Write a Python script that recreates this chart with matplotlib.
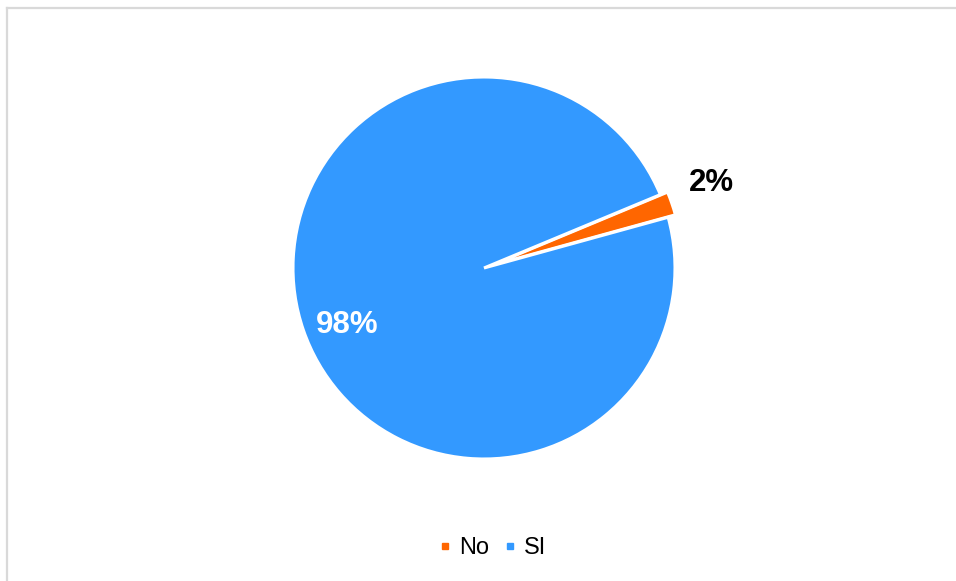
import numpy as np
import matplotlib.pyplot as plt
from matplotlib.lines import Line2D

# Daten
labels = ['No', 'SI']
values = [2, 98]
colors = ['#FF6600', '#3399FF']
pct_text = ['2%', '98%']
text_colors = ['black', 'white']
text_dist = [1.27, 0.775]
text_shift = [1.6, 3.5]  # Grad, Feinjustierung der Beschriftung

W, H = 956, 581
fig = plt.figure(figsize=(W / 100, H / 100), dpi=100)
fig.patch.set_facecolor('white')

# Rahmen (links und oben)
fig.add_artist(Line2D([7 / W, 7 / W], [0, 1 - 8 / H], color='#d9d9d9', lw=1.6,
                      transform=fig.transFigure))
fig.add_artist(Line2D([7 / W, 1], [1 - 8 / H, 1 - 8 / H], color='#d9d9d9', lw=1.6,
                      transform=fig.transFigure))

# Pie-Achse: Mittelpunkt (484, 268), Radius 191 px
cx, cy, r = 484, 268, 191
half = 250
ax = fig.add_axes([(cx - half) / W, (H - cy - half) / H, 2 * half / W, 2 * half / H])

wedges, _ = ax.pie(values, colors=colors, startangle=22.6, counterclock=False,
                   explode=[0.04, 0], radius=1,
                   wedgeprops=dict(edgecolor='white', linewidth=2.2))
ax.set_xlim(-half / r, half / r)
ax.set_ylim(-half / r, half / r)
ax.set_aspect('auto')
ax.axis('off')

for w, t, c, d, s in zip(wedges, pct_text, text_colors, text_dist, text_shift):
    ang = np.deg2rad((w.theta1 + w.theta2) / 2 + s)
    ax.text(d * np.cos(ang), d * np.sin(ang), t, color=c, fontsize=22.5,
            fontweight='bold', ha='center', va='center', family='Liberation Sans')

handles = [Line2D([], [], marker='s', linestyle='none', color=c, markersize=5)
           for c in colors]
fig.legend(handles, labels, loc='center', bbox_to_anchor=(492 / W, 1 - 548 / H),
           ncol=2, frameon=False, handlelength=0.6, handletextpad=0.3,
           columnspacing=0.6, prop={'family': 'Liberation Sans', 'size': 17})

plt.savefig('out.png', dpi=100)
